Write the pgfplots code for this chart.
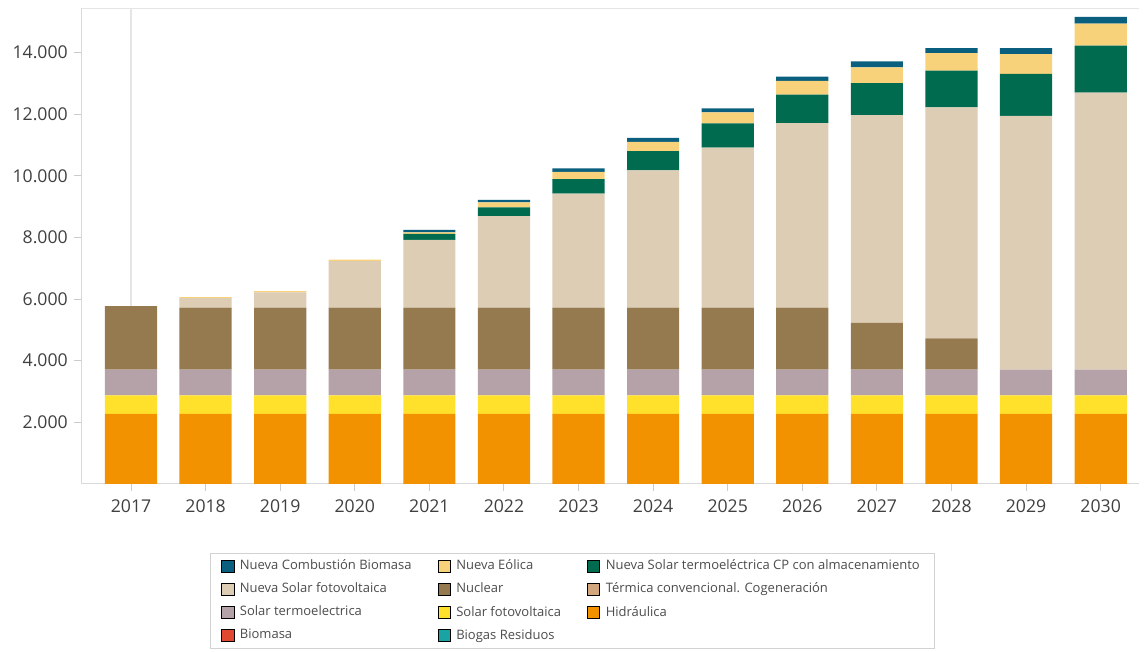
\documentclass[border=0pt]{standalone}
\usepackage{pgfplots}
\pgfplotsset{compat=1.18}
\usepackage{pgfplotstable}
\usepackage{fontspec}
\setmainfont{Open Sans}
\definecolor{cHid}{HTML}{F39200}
\definecolor{cSfv}{HTML}{FFE12B}
\definecolor{cSterm}{HTML}{B5A1A8}
\definecolor{cNuc}{HTML}{967A4F}
\definecolor{cNsfv}{HTML}{DCCDB4}
\definecolor{cNcp}{HTML}{006B4F}
\definecolor{cNeol}{HTML}{F8D27A}
\definecolor{cNbio}{HTML}{0B5F7E}
\definecolor{cTerm}{HTML}{D2A77E}
\definecolor{cBio}{HTML}{E0492F}
\definecolor{cBiog}{HTML}{1AA3A3}
\pgfplotstableread{
x hid sfv sterm nuc nsfv ncp neol nbio
0 2270 600 840 2060 0 0 0 0
1 2270 600 840 2010 310 0 30 0
2 2270 600 840 2010 500 0 40 0
3 2270 600 840 2010 1510 0 50 0
4 2270 600 840 2010 2200 195 50 80
5 2270 600 840 2010 2970 290 160 80
6 2270 600 840 2010 3700 470 240 110
7 2270 600 840 2010 4460 620 300 130
8 2270 600 840 2010 5200 780 360 130
9 2270 600 840 2010 5990 930 440 140
10 2270 600 840 1520 6740 1040 510 195
11 2270 600 840 1010 7500 1195 570 165
12 2270 600 840 0 8240 1360 640 195
13 2270 600 840 0 8990 1530 710 220
}\data
\begin{document}
\begin{tikzpicture}
\begin{axis}[name=ax, scale only axis, width=569pt, height=256pt,
  ybar stacked, bar width=0.7,
  xmin=-0.66, xmax=13.52, ymin=0, ymax=15450,
  scaled y ticks=false,
  axis x line*=bottom, axis y line*=left,
  xtick={0,...,13},
  xticklabels={2017,2018,2019,2020,2021,2022,2023,2024,2025,2026,2027,2028,2029,2030},
  ytick={2000,4000,6000,8000,10000,12000,14000},
  yticklabels={2.000,4.000,6.000,8.000,10.000,12.000,14.000},
  tick align=outside, major tick length=4pt,
  tick style={gray!40, line width=0.5pt},
  axis line style={gray!30},
  ticklabel style={font=\fontsize{9.5}{11}\selectfont, text=black!75},
  xticklabel style={yshift=-1pt},
  legend columns=3,
  legend cell align=left,
  legend image code/.code={\fill[#1] (0pt,-3.3pt) rectangle (6.6pt,3.3pt);},
  legend style={at={(0.121,-0.145)}, anchor=north west, draw=gray!35,
    font=\fontsize{7}{8}\selectfont, text=black!70,
    inner xsep=6pt, inner ysep=1.5pt,
    /tikz/column sep=1pt, /tikz/row sep=1.6pt,
    /tikz/every even column/.append style={column sep=12pt}},
]
\addplot[fill=cHid, draw=none, forget plot] table[x=x, y=hid] {\data};
\addplot[fill=cSfv, draw=none, forget plot] table[x=x, y=sfv] {\data};
\addplot[fill=cSterm, draw=none, forget plot] table[x=x, y=sterm] {\data};
\addplot[fill=cNuc, draw=none, forget plot] table[x=x, y=nuc] {\data};
\addplot[fill=cNsfv, draw=none, forget plot] table[x=x, y=nsfv] {\data};
\addplot[fill=cNcp, draw=none, forget plot] table[x=x, y=ncp] {\data};
\addplot[fill=cNeol, draw=none, forget plot] table[x=x, y=neol] {\data};
\addplot[fill=cNbio, draw=none, forget plot] table[x=x, y=nbio] {\data};
\addlegendimage{fill=cNbio}\addlegendentry{Nueva Combustión Biomasa}
\addlegendimage{fill=cNeol}\addlegendentry{Nueva Eólica}
\addlegendimage{fill=cNcp}\addlegendentry{Nueva Solar termoeléctrica CP con almacenamiento}
\addlegendimage{fill=cNsfv}\addlegendentry{Nueva Solar fotovoltaica}
\addlegendimage{fill=cNuc}\addlegendentry{Nuclear}
\addlegendimage{fill=cTerm}\addlegendentry{Térmica convencional. Cogeneración}
\addlegendimage{fill=cSterm}\addlegendentry{Solar termoelectrica}
\addlegendimage{fill=cSfv}\addlegendentry{Solar fotovoltaica}
\addlegendimage{fill=cHid}\addlegendentry{Hidráulica}
\addlegendimage{fill=cBio}\addlegendentry{Biomasa}
\addlegendimage{fill=cBiog}\addlegendentry{Biogas Residuos}
\draw[gray!20, line width=0.8pt] (axis cs:0,0) -- (axis cs:0,15450);
\draw[gray!20] (rel axis cs:0,1) -- (rel axis cs:1,1);
\end{axis}
\path (ax.south west) ++(-44pt,-90pt) coordinate (bl);
\path (ax.north east) ++(3pt,4.3pt) coordinate (tr);
\path[draw=none] (bl) rectangle (tr);
\end{tikzpicture}
\end{document}
